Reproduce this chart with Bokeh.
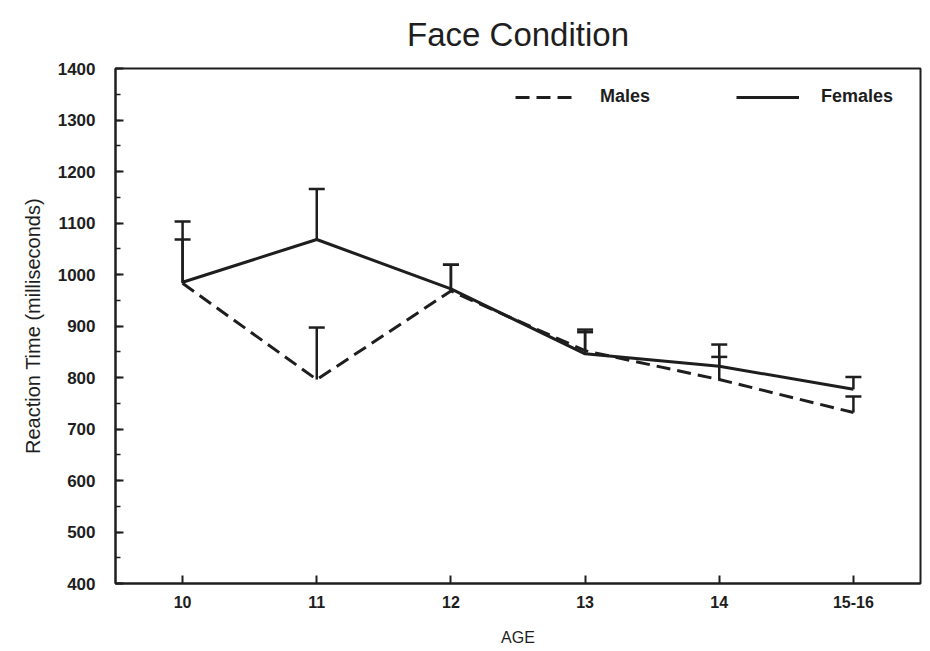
from bokeh.plotting import figure
from bokeh.models import (ColumnDataSource, Whisker, TeeHead, Range1d, FactorRange,
                          SingleIntervalTicker, Legend, LegendItem)
from bokeh.embed import file_html
from bokeh.resources import INLINE

# ---- data ----
ages = ["10", "11", "12", "13", "14", "15-16"]
male_rt = [983, 796, 968, 852, 796, 732]
male_se = [85, 101, 51, 41, 44, 31]
female_rt = [985, 1068, 972, 846, 822, 777]
female_se = [118, 98, 47, 42, 42, 24]
y_ticks_interval = 100
title_text = "Face Condition"

FONT = "Liberation Sans"
INK = "#1e1e1e"

p = figure(width=922, height=651, output_backend="svg", toolbar_location=None,
           x_range=FactorRange(factors=ages, range_padding=0),
           y_range=Range1d(400, 1400),
           min_border_left=115, min_border_right=2, min_border_top=68, min_border_bottom=68)

p.title.text = title_text
p.title.align = "center"
p.title.text_font = FONT
p.title.text_font_size = "33px"
p.title.text_font_style = "normal"
p.title.text_color = INK
p.title.vertical_align = "top"
p.title.standoff = 28

p.xgrid.visible = False
p.ygrid.visible = False
p.outline_line_color = INK
p.outline_line_width = 2
p.outline_line_alpha = 1

# error bars
m_src = ColumnDataSource(dict(age=ages, mean=male_rt,
                              upper=[m + s for m, s in zip(male_rt, male_se)]))
f_src = ColumnDataSource(dict(age=ages, mean=female_rt,
                              upper=[m + s for m, s in zip(female_rt, female_se)]))
for src in (m_src, f_src):
    w = Whisker(source=src, base="age", lower="mean", upper="upper", dimension="height",
                line_color=INK, line_width=2.5,
                upper_head=TeeHead(size=16, line_width=2.5, line_color=INK),
                lower_head=None)
    p.add_layout(w)

male_line = p.line(x=ages, y=male_rt, line_color=INK, line_width=3, line_dash="14 7")
female_line = p.line(x=ages, y=female_rt, line_color=INK, line_width=3)

legend = Legend(items=[LegendItem(label="Males", renderers=[male_line]),
                       LegendItem(label="Females", renderers=[female_line])],
                orientation="horizontal", location=(400, 476),
                border_line_color=None, background_fill_alpha=0,
                glyph_width=63, glyph_height=20, label_standoff=22, spacing=86,
                label_text_font=FONT, label_text_font_size="18px",
                label_text_font_style="bold", label_text_color=INK,
                padding=10, margin=0)
p.add_layout(legend)

# y axis
ya = p.yaxis[0]
ya.ticker = SingleIntervalTicker(interval=y_ticks_interval, num_minor_ticks=2)
ya.axis_label = "Reaction Time (milliseconds)"
ya.axis_label_text_font = FONT
ya.axis_label_text_font_size = "20px"
ya.axis_label_text_font_style = "normal"
ya.axis_label_text_color = INK
ya.axis_label_standoff = 11
ya.major_label_text_font = FONT
ya.major_label_text_font_size = "17px"
ya.major_label_text_font_style = "bold"
ya.major_label_text_color = INK
ya.major_label_standoff = 20
ya.major_tick_in = 8
ya.major_tick_out = 0
ya.minor_tick_in = 5
ya.minor_tick_out = 0
ya.axis_line_width = 2
ya.axis_line_color = INK
ya.major_tick_line_width = 2
ya.major_tick_line_color = INK
ya.minor_tick_line_width = 1.5
ya.minor_tick_line_color = INK

# x axis
xa = p.xaxis[0]
xa.axis_label = "AGE"
xa.axis_label_text_font = FONT
xa.axis_label_text_font_size = "16px"
xa.axis_label_text_font_style = "normal"
xa.axis_label_text_color = INK
xa.axis_label_standoff = 18
xa.major_label_text_font = FONT
xa.major_label_text_font_size = "16px"
xa.major_label_text_font_style = "bold"
xa.major_label_text_color = INK
xa.major_label_standoff = 12
xa.major_tick_in = 8
xa.major_tick_out = 0
xa.axis_line_width = 2
xa.axis_line_color = INK
xa.major_tick_line_width = 2
xa.major_tick_line_color = INK

open("out.html", "w").write(file_html(p, INLINE))
